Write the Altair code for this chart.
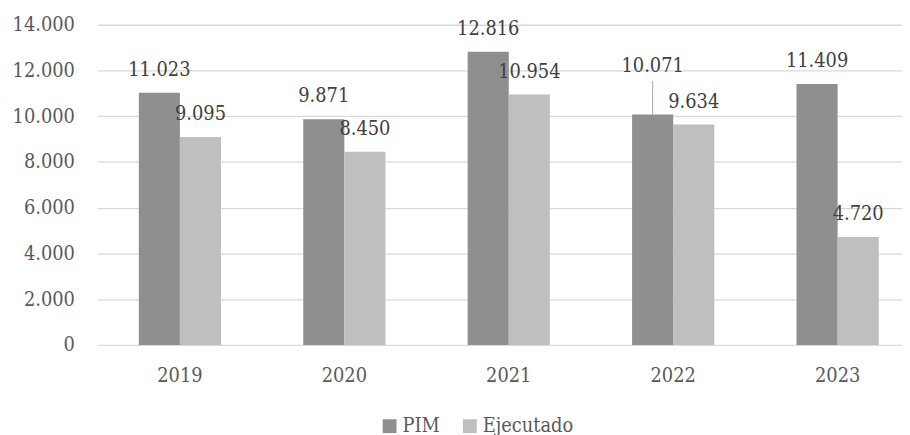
import altair as alt
import pandas as pd

years = ["2019", "2020", "2021", "2022", "2023"]
pim = [11023, 9871, 12816, 10071, 11409]
ejecutado = [9095, 8450, 10954, 9634, 4720]
series = ["PIM", "Ejecutado"]
colors = ["#8f8f8f", "#bfbfbf"]
y_ticks = [0, 2000, 4000, 6000, 8000, 10000, 12000, 14000]

rows = []
for i, yr in enumerate(years):
    rows.append({"year": yr, "serie": "PIM", "value": pim[i]})
    rows.append({"year": yr, "serie": "Ejecutado", "value": ejecutado[i]})
df = pd.DataFrame(rows)
df["label"] = df["value"].map(lambda v: f"{v:,}".replace(",", "."))

FONT = "DejaVu Serif Condensed, DejaVu Serif"
FS = 20

x = alt.X("year:N", sort=years,
          scale=alt.Scale(paddingInner=0, paddingOuter=0, range=[0.5, 830]),
          axis=alt.Axis(title=None, labelAngle=0, ticks=False, domain=False,
                        labelPadding=21, labelFontSize=FS, labelColor="#595959",
                        labelFont=FONT, grid=False))
y = alt.Y("value:Q", scale=alt.Scale(domain=[0, 14000], nice=False),
          axis=alt.Axis(values=y_ticks, title=None, ticks=False, domain=False,
                        labelPadding=23, labelFontSize=FS, labelColor="#595959",
                        labelFont=FONT, gridColor="#d9d9d9", gridWidth=1.3,
                        labelExpr="replace(format(datum.value, ','), ',', '.')"))
xo = alt.XOffset("serie:N", sort=series,
                 scale=alt.Scale(paddingInner=0, paddingOuter=1))

base = alt.Chart(df)

bars = base.mark_bar().encode(
    x=x, y=y, xOffset=xo,
    color=alt.Color("serie:N", sort=series,
                    scale=alt.Scale(domain=series, range=colors),
                    legend=alt.Legend(title=None, orient="none", legendX=285, legendY=395,
                                      direction="horizontal", symbolType="square",
                                      symbolSize=196, symbolStrokeWidth=0, symbolOpacity=1,
                                      labelFont=FONT, labelFontSize=FS, labelColor="#595959",
                                      labelOffset=3, columnPadding=20))
)

labels = base.transform_filter(
    "!(datum.year == '2022' && datum.serie == 'PIM')"
).mark_text(font=FONT, fontSize=FS, color="#404040", baseline="alphabetic", dy=-17).encode(
    x=x, y=y, xOffset=xo, text="label:N"
)

special = base.transform_filter(
    "datum.year == '2022' && datum.serie == 'PIM'"
).mark_text(font=FONT, fontSize=FS, color="#404040", baseline="alphabetic", dy=-43).encode(
    x=x, y=y, xOffset=xo, text="label:N"
)

leader = base.transform_filter(
    "datum.year == '2022' && datum.serie == 'PIM'"
).mark_rule(color="#a6a6a6", strokeWidth=1, y2Offset=-34).encode(
    x=x, y=y, y2="value:Q", xOffset=xo
)

chart = alt.layer(bars, leader, labels, special).properties(
    width=812, height=323,
    autosize=alt.AutoSizeParams(type="none"),
    padding={"left": 90, "top": 15, "right": 0, "bottom": 89},
).configure_view(stroke=None)

chart.save("out.html", embed_options={"renderer": "svg", "actions": False})
